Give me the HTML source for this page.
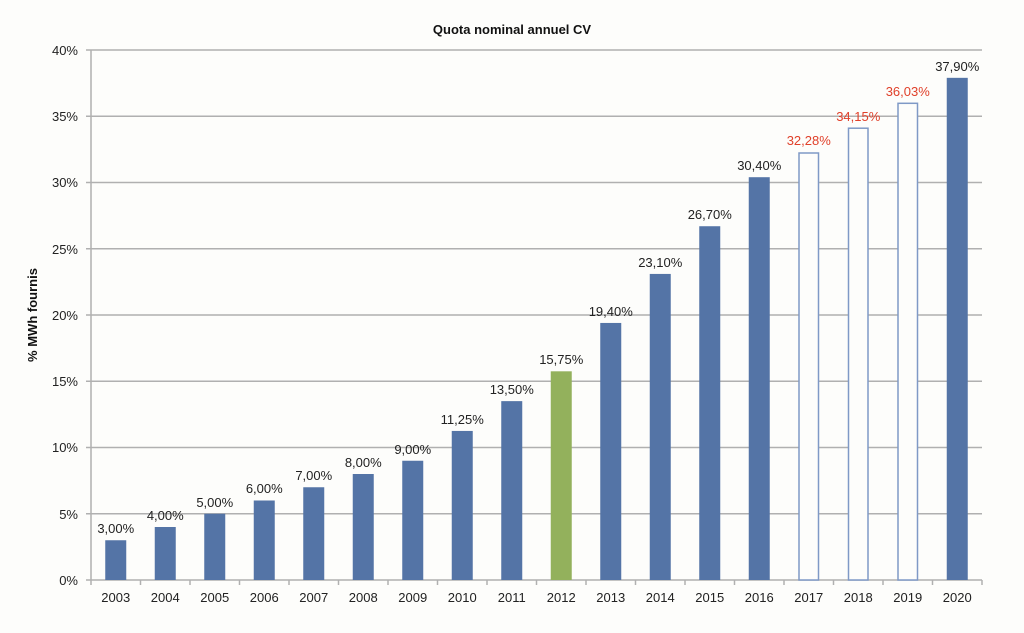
<!DOCTYPE html>
<html><head><meta charset="utf-8"><style>
html,body{margin:0;padding:0;background:#fdfdfb;}
svg{display:block;}
text{font-family:"Liberation Sans",Arial,sans-serif;}
</style></head><body>
<svg width="1024" height="633" viewBox="0 0 1024 633" xmlns="http://www.w3.org/2000/svg">
<rect width="1024" height="633" fill="#fdfdfb"/>
<text x="512" y="34" text-anchor="middle" font-size="13" font-weight="bold" fill="#111">Quota nominal annuel CV</text>
<text transform="translate(37,315) rotate(-90)" text-anchor="middle" font-size="13" font-weight="bold" fill="#111">% MWh fournis</text>
<g stroke="#b0b0b0" stroke-width="1.5">
<line x1="86" y1="50" x2="982" y2="50"/>
<line x1="86" y1="116.3" x2="982" y2="116.3"/>
<line x1="86" y1="182.5" x2="982" y2="182.5"/>
<line x1="86" y1="248.8" x2="982" y2="248.8"/>
<line x1="86" y1="315" x2="982" y2="315"/>
<line x1="86" y1="381.3" x2="982" y2="381.3"/>
<line x1="86" y1="447.5" x2="982" y2="447.5"/>
<line x1="86" y1="513.8" x2="982" y2="513.8"/>
<line x1="86" y1="580" x2="982" y2="580"/>
<line x1="91" y1="50" x2="91" y2="585"/>
<line x1="140.5" y1="580" x2="140.5" y2="585"/><line x1="190" y1="580" x2="190" y2="585"/>
<line x1="239.5" y1="580" x2="239.5" y2="585"/><line x1="289" y1="580" x2="289" y2="585"/>
<line x1="338.5" y1="580" x2="338.5" y2="585"/><line x1="388" y1="580" x2="388" y2="585"/>
<line x1="437.5" y1="580" x2="437.5" y2="585"/><line x1="487" y1="580" x2="487" y2="585"/>
<line x1="536.5" y1="580" x2="536.5" y2="585"/><line x1="586" y1="580" x2="586" y2="585"/>
<line x1="635.5" y1="580" x2="635.5" y2="585"/><line x1="685" y1="580" x2="685" y2="585"/>
<line x1="734.5" y1="580" x2="734.5" y2="585"/><line x1="784" y1="580" x2="784" y2="585"/>
<line x1="833.5" y1="580" x2="833.5" y2="585"/><line x1="883" y1="580" x2="883" y2="585"/>
<line x1="932.5" y1="580" x2="932.5" y2="585"/><line x1="982" y1="580" x2="982" y2="585"/>
</g>
<g font-size="13" fill="#222" text-anchor="end">
<text x="78" y="55">40%</text><text x="78" y="121">35%</text><text x="78" y="187">30%</text>
<text x="78" y="254">25%</text><text x="78" y="320">20%</text><text x="78" y="386">15%</text>
<text x="78" y="452">10%</text><text x="78" y="519">5%</text><text x="78" y="585">0%</text>
</g>
<g fill="#5474a6">
<rect x="105.25" y="540.25" width="21" height="39.75"/>
<rect x="154.75" y="527" width="21" height="53"/>
<rect x="204.25" y="513.75" width="21" height="66.25"/>
<rect x="253.75" y="500.5" width="21" height="79.5"/>
<rect x="303.25" y="487.25" width="21" height="92.75"/>
<rect x="352.75" y="474" width="21" height="106"/>
<rect x="402.25" y="460.75" width="21" height="119.25"/>
<rect x="451.75" y="430.94" width="21" height="149.06"/>
<rect x="501.25" y="401.13" width="21" height="178.87"/>
<rect x="550.75" y="371.31" width="21" height="208.69" fill="#93b15c"/>
<rect x="600.25" y="322.95" width="21" height="257.05"/>
<rect x="649.75" y="273.93" width="21" height="306.07"/>
<rect x="699.25" y="226.23" width="21" height="353.77"/>
<rect x="748.75" y="177.2" width="21" height="402.8"/>
<rect x="946.75" y="77.83" width="21" height="502.17"/>
</g>
<g fill="#fdfdfb" stroke="#7f99c6" stroke-width="1.5">
<rect x="799" y="153" width="19.5" height="427"/>
<rect x="848.5" y="128.2" width="19.5" height="451.8"/>
<rect x="898" y="103.3" width="19.5" height="476.7"/>
</g>
<g font-size="13" fill="#222" text-anchor="middle">
<text x="115.75" y="533">3,00%</text>
<text x="165.25" y="520">4,00%</text>
<text x="214.75" y="507">5,00%</text>
<text x="264.25" y="493">6,00%</text>
<text x="313.75" y="480">7,00%</text>
<text x="363.25" y="467">8,00%</text>
<text x="412.75" y="454">9,00%</text>
<text x="462.25" y="424">11,25%</text>
<text x="511.75" y="394">13,50%</text>
<text x="561.25" y="364">15,75%</text>
<text x="610.75" y="316">19,40%</text>
<text x="660.25" y="267">23,10%</text>
<text x="709.75" y="219">26,70%</text>
<text x="759.25" y="170">30,40%</text>
<text x="957.25" y="71">37,90%</text>
</g>
<g font-size="13" fill="#e0402a" text-anchor="middle">
<text x="808.75" y="145">32,28%</text>
<text x="858.25" y="121">34,15%</text>
<text x="907.75" y="96">36,03%</text>
</g>
<g font-size="13" fill="#222" text-anchor="middle">
<text x="115.75" y="602">2003</text><text x="165.25" y="602">2004</text><text x="214.75" y="602">2005</text>
<text x="264.25" y="602">2006</text><text x="313.75" y="602">2007</text><text x="363.25" y="602">2008</text>
<text x="412.75" y="602">2009</text><text x="462.25" y="602">2010</text><text x="511.75" y="602">2011</text>
<text x="561.25" y="602">2012</text><text x="610.75" y="602">2013</text><text x="660.25" y="602">2014</text>
<text x="709.75" y="602">2015</text><text x="759.25" y="602">2016</text><text x="808.75" y="602">2017</text>
<text x="858.25" y="602">2018</text><text x="907.75" y="602">2019</text><text x="957.25" y="602">2020</text>
</g>
</svg>
</body></html>
